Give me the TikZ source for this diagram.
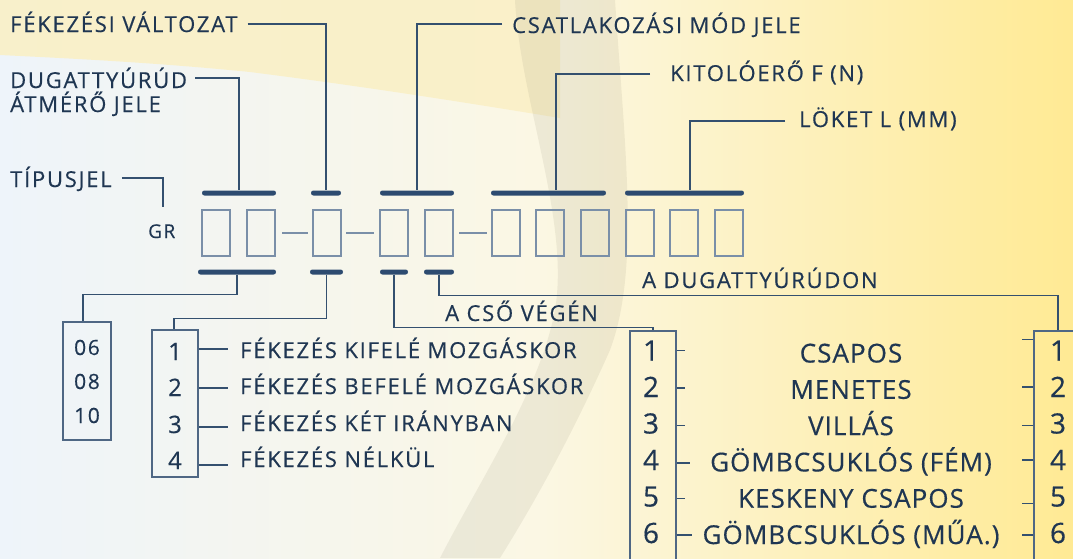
\documentclass[tikz,border=0pt]{standalone}
\usepackage{fontspec}
\setmainfont{Open Sans}[LetterSpace=8,FakeBold=0.4]
\newfontfamily\bigfont{Open Sans}[LetterSpace=4,FakeBold=0.4]
\usetikzlibrary{calc}
\definecolor{ink}{HTML}{1F3652}
\definecolor{linec}{HTML}{34506F}
\definecolor{barc}{HTML}{2D4B70}
\definecolor{slotc}{HTML}{7A8FA8}
\definecolor{boxc}{HTML}{4F6784}
\definecolor{bgL}{HTML}{EEF4FA}
\definecolor{bgM}{HTML}{FBF7E4}
\definecolor{bgR}{HTML}{FFEA94}
\definecolor{bgTop}{HTML}{FAF0C6}
\definecolor{shadowc}{HTML}{8E8670}
\begin{document}
\begin{tikzpicture}[x=1pt,y=-1pt,
  lbl/.style={anchor=base west, inner sep=0pt, text=ink, font=\fontsize{22}{22}\selectfont},
  big/.style={anchor=base, inner sep=0pt, text=ink, font=\bigfont\fontsize{26}{26}\selectfont},
  numA/.style={anchor=base, inner sep=0pt, text=ink, font=\fontsize{24}{24}\selectfont},
  numB/.style={anchor=base, inner sep=0pt, text=ink, font=\bigfont\fontsize{28}{28}\selectfont},
  numS/.style={anchor=base, inner sep=0pt, text=ink, font=\fontsize{21}{21}\selectfont},
  conn/.style={draw=linec, line width=1.3pt},
  tbar/.style={fill=barc, rounded corners=2.4pt, minimum height=5pt, inner sep=0pt, draw=none},
  slot/.style={draw=slotc, line width=2pt, minimum width=28pt, minimum height=46pt, inner sep=0pt},
  tbox/.style={draw=boxc, line width=1.3pt, inner sep=0pt}]
\useasboundingbox (0,0) rectangle (1073,558);
% background
\shade[left color=bgL, right color=bgR, middle color=bgM] (0,0) rectangle (1073,558);
\fill[bgTop, opacity=0.9] (0,0) -- (560,0) -- (560,118) .. controls (450,100) and (360,86) .. (250,72) .. controls (150,62) and (60,58) .. (0,55) -- cycle;
\fill[shadowc, opacity=0.12] (515,0) -- (615,0) .. controls (625,150) and (640,270) .. (610,350) .. controls (570,440) and (530,510) .. (500,558) -- (440,558) .. controls (480,480) and (540,390) .. (555,310) .. controls (570,220) and (520,100) .. (515,0) -- cycle;
% top labels
\node[lbl] (lfek) at (10,32) {FÉKEZÉSI VÁLTOZAT};
\node[lbl] (ldug1) at (10,88) {DUGATTYÚRÚD};
\node[lbl] (ldug2) at (10,112) {ÁTMÉRŐ JELE};
\node[lbl] (ltip) at (10,187) {TÍPUSJEL};
\node[lbl] (lcsat) at (512,33) {CSATLAKOZÁSI MÓD JELE};
\node[lbl] (lkit) at (670,81) {KITOLÓERŐ F (N)};
\node[lbl] (llok) at (799,127) {LÖKET L (MM)};
\node[lbl, font=\fontsize{19}{19}\selectfont] (lgr) at (148,238) {GR};
% top bars
\node[tbar, minimum width=74pt] (tb1) at (239,193) {};
\node[tbar, minimum width=30pt] (tb2) at (326,193) {};
\node[tbar, minimum width=74pt] (tb3) at (417,193) {};
\node[tbar, minimum width=115pt] (tb4) at (548.5,193) {};
\node[tbar, minimum width=119pt] (tb5) at (684.5,193) {};
% slots
\foreach \i/\x in {1/216,2/261,3/327,4/394,5/439,6/506,7/550,8/594.5,9/639.5,10/684,11/729}
  \node[slot] (s\i) at (\x,233) {};
\draw[conn, draw=slotc] ([shift={(6,0)}]s2.east) -- ([shift={(-4,0)}]s3.west);
\draw[conn, draw=slotc] ([shift={(4,0)}]s3.east) -- ([shift={(-5,0)}]s4.west);
\draw[conn, draw=slotc] ([shift={(5,0)}]s5.east) -- ([shift={(-4,0)}]s6.west);
% bottom bars
\node[tbar, minimum width=78pt] (bb1) at (237,272) {};
\node[tbar, minimum width=33pt] (bb2) at (326.5,272) {};
\node[tbar, minimum width=28pt] (bb3) at (394,272) {};
\node[tbar, minimum width=30pt] (bb4) at (439,272) {};
% top connectors
\coordinate (tipend) at (163,207);
\draw[conn] ([shift={(10,-8)}]lfek.base east) -| (tb2.north);
\draw[conn] ([shift={(8,-10)}]ldug1.base east) -| (tb1.north);
\draw[conn] ([shift={(10,-9)}]ltip.base east) -| (tipend);
\draw[conn] ([shift={(-10,-9)}]lcsat.base west) -| (tb3.north);
\draw[conn] ([shift={(-20,-7)}]lkit.base west) -| ([shift={(7.5,0)}]tb4.north);
\draw[conn] ([shift={(-14,-6)}]llok.base west) -| ([shift={(5.5,0)}]tb5.north);
% box 06/08/10
\node[tbox, minimum width=48pt, minimum height=118pt] (b06) at (87,381) {};
\node[numS] (n06) at (87,355) {06};
\node[numS] (n08) at (87,389) {08};
\node[numS] (n10) at (87,423) {10};
\draw[conn] (bb1.south) |- ([shift={(-4,-27)}]b06.north) -- ([shift={(-4,0)}]b06.north);
% box 1-4
\node[tbox, minimum width=46pt, minimum height=147pt] (b14) at (175,403.5) {};
\draw[conn] (bb2.south) |- ([shift={(-1,-11)}]b14.north) -- ([shift={(-1,0)}]b14.north);
\foreach \i/\yb/\ty/\t in {1/360/-9/FÉKEZÉS KIFELÉ MOZGÁSKOR,2/396/-6/FÉKEZÉS BEFELÉ MOZGÁSKOR,3/433/-4/FÉKEZÉS KÉT IRÁNYBAN,4/469/-2/FÉKEZÉS NÉLKÜL}{
  \node[numA] (m\i) at (175,\yb) {\i};
  \node[lbl] (f\i) at (240,\yb-2) {\t};
  \draw[conn] (b14.east |- {$(f\i.base west)+(0,\ty)$}) -- ([shift={(-12,\ty)}]f\i.base west);
}
% connection boxes
\node[tbox, minimum width=46pt, minimum height=278pt] (bcl) at (653,470) {};
\node[tbox, minimum width=48pt, minimum height=278pt] (bcr) at (1058,470) {};
\node[lbl] (lcso) at (445,321) {A CSŐ VÉGÉN};
\node[lbl] (lrud) at (642,288) {A DUGATTYÚRÚDON};
\draw[conn] (bb3.south) |- ([shift={(0,-3)}]bcl.north) -- (bcl.north);
\draw[conn] (bb4.south) |- ([shift={(0,-35)}]bcr.north) -- (bcr.north);
\foreach \i/\t/\lt/\rt/\ly/\ry in {1/CSAPOS/8/11/-10/-21,2/MENETES/8/11/-9/-10,3/VILLÁS/8/11/-8/-8,4/GÖMBCSUKLÓS (FÉM)/13/11/-7/-10,5/KESKENY CSAPOS/8/11/-8/-3,6/GÖMBCSUKLÓS (MŰA.)/15/11/-8/-8}{
  \node[numB] (p\i) at (651,{360.5+36.5*(\i-1)}) {\i};
  \node[numB] (q\i) at (1058,{360.5+36.5*(\i-1)}) {\i};
  \node[big] (c\i) at (851,{362.5+36.3*(\i-1)}) {\t};
  \draw[conn] (bcl.east |- {$(p\i.base)+(0,\ly)$}) -- ++(\lt,0);
  \draw[conn] (bcr.west |- {$(q\i.base)+(0,\ry)$}) -- ++(-\rt,0);
}
\end{tikzpicture}
\end{document}
